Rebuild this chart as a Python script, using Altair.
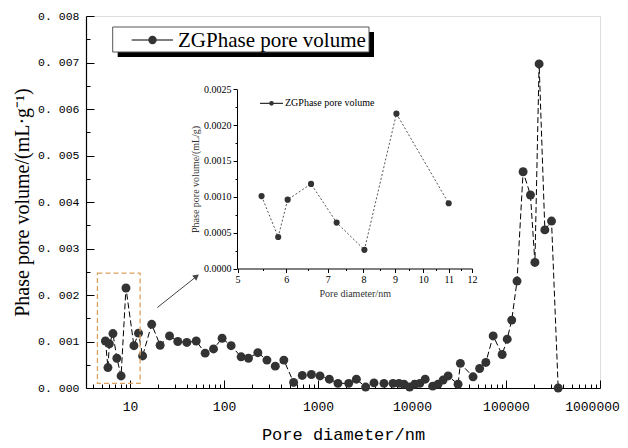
import altair as alt
import pandas as pd

# ---------------- data ----------------
series_name = "ZGPhase pore volume"

diameter_nm = [5.47, 5.82, 6.03, 6.58, 7.24, 8.03, 9.05, 11.0, 12.3, 13.6, 17.0, 20.9,
               26.3, 32.2, 40.2, 50.6, 63, 77.3, 95.4, 119, 152, 182, 229, 286, 351,
               433, 550, 680, 850, 1050, 1320, 1630, 2120, 2560, 3210, 3940, 5030,
               6280, 7270, 8220, 9440, 10700, 12100, 13800, 16600, 18900, 21400,
               24200, 30900, 32700, 44600, 52400, 61000, 73000, 91000, 103000,
               115000, 131000, 152000, 182000, 203000, 225000, 259000, 305000, 359000]
pore_volume = [0.00101, 0.00044, 0.00095, 0.00117, 0.00064, 0.00026, 0.00215, 0.00091,
               0.00118, 0.00069, 0.00137, 0.00092, 0.00112, 0.00100, 0.00098, 0.00101,
               0.00075, 0.00084, 0.00107, 0.00091, 0.00067, 0.00064, 0.00076, 0.00060,
               0.00047, 0.00060, 0.00012, 0.00027, 0.00029, 0.00026, 0.00019, 0.00010,
               0.00010, 0.00019, 0.00002, 0.00011, 0.00010, 0.00010, 0.00010, 0.00008,
               0.00002, 0.00008, 0.00010, 0.00019, 0.00004, 0.00008, 0.00017, 0.00026,
               0.00008, 0.00053, 0.00024, 0.00042, 0.00055, 0.00112, 0.00072, 0.00105,
               0.00146, 0.00230, 0.00465, 0.00415, 0.00270, 0.00697, 0.00340, 0.00359,
               0.0]

inset_diameter = [5.47, 5.82, 6.03, 6.58, 7.24, 8.03, 9.05, 11.0]
inset_volume = [0.00101, 0.00044, 0.00096, 0.00118, 0.00064, 0.00026, 0.00216, 0.00091]

x_major = [10, 100, 1000, 10000, 100000, 1000000]
x_minor = [4, 5, 6, 7, 8, 9, 20, 30, 40, 50, 60, 70, 80, 90,
           200, 300, 400, 500, 600, 700, 800, 900,
           2000, 3000, 4000, 5000, 6000, 7000, 8000, 9000,
           20000, 30000, 40000, 50000, 60000, 70000, 80000, 90000,
           200000, 300000, 400000, 500000, 600000, 700000, 800000, 900000]
y_major = [0, 0.001, 0.002, 0.003, 0.004, 0.005, 0.006, 0.007, 0.008]
y_minor = [0.0005, 0.0015, 0.0025, 0.0035, 0.0045, 0.0055, 0.0065, 0.0075]

inset_x_major = [5, 6, 7, 8, 9, 10, 11, 12]
inset_x_minor = [5.5, 6.5, 7.5, 8.5, 9.5, 10.5, 11.5]
inset_y_major = [0, 0.0005, 0.001, 0.0015, 0.002, 0.0025]
inset_y_minor = [0.00025, 0.00075, 0.00125, 0.00175, 0.00225]

zoom_box = {"x1": [4.5], "x2": [12.8], "y1": [0.0001], "y2": [0.00247]}
arrow = {"x1": [19.5], "x2": [51], "y1": [0.00173], "y2": [0.0024]}

# ---------------- layout ----------------
W, H = 514, 372
SERIF = "Liberation Serif"
MONO = "Liberation Mono"

main_df = pd.DataFrame({"d": diameter_nm, "v": pore_volume})
inset_df = pd.DataFrame({"d": inset_diameter, "v": inset_volume})
box_df = pd.DataFrame(zoom_box)
arrow_df = pd.DataFrame(arrow)
name_df = pd.DataFrame({"t": [series_name]})

xs = alt.Scale(type="log", domain=[3.4, 1000000])
ys = alt.Scale(domain=[0, 0.008])
ixs = alt.Scale(type="log", domain=[5, 12], range=[151.5, 386])
iys = alt.Scale(domain=[0, 0.0025], range=[252.5, 73.3])


def tick_axis(orient, offset, values, size):
    return alt.Axis(orient=orient, offset=offset, values=values, labels=False,
                    domain=False, grid=False, title=None, ticks=True,
                    tickColor="black", tickWidth=1, tickSize=size)


# main line (carries labelled axes)
main_line = alt.Chart(main_df).mark_line(color="black", strokeDash=[6, 3], strokeWidth=1).encode(
    x=alt.X("d:Q", scale=xs, axis=alt.Axis(
        orient="bottom", values=x_major[:-1], format="d",
        ticks=False, grid=False, domainColor="black", domainWidth=1.2,
        labelFont=MONO, labelFontSize=13, labelColor="black", labelPadding=12,
        labelFlush=False, labelOverlap=False, labelBound=False,
        title="Pore diameter/nm", titleFont=MONO, titleFontSize=17,
        titleFontWeight="normal", titleColor="black", titlePadding=13)),
    y=alt.Y("v:Q", scale=ys, axis=alt.Axis(
        orient="left", values=y_major,
        labelExpr="replace(format(datum.value, '.3f'), '.', '. ')",
        ticks=False, grid=False, domainColor="black", domainWidth=1.2,
        labelFont=MONO, labelFontSize=11.5, labelColor="black", labelPadding=7,
        labelFlush=False, labelOverlap=False,
        title="Phase pore volume/(mL·g⁻¹)", titleFont=SERIF, titleFontSize=20,
        titleFontWeight="normal", titleColor="black", titlePadding=5)),
)

main_pts = alt.Chart(main_df).mark_circle(size=80, color="#333333", opacity=1).encode(
    x=alt.X("d:Q", scale=xs, axis=tick_axis("top", -H, x_major, 8)),
    y=alt.Y("v:Q", scale=ys, axis=tick_axis("right", -W, y_major, 8)),
)

zoom_rect = alt.Chart(box_df).mark_rect(
    fillOpacity=0, stroke="#DDA15E", strokeDash=[5, 3], strokeWidth=1.3).encode(
    x=alt.X("x1:Q", scale=xs, axis=tick_axis("top", -H, x_minor, 4)),
    x2="x2:Q",
    y=alt.Y("y1:Q", scale=ys, axis=tick_axis("right", -W, y_minor, 4)),
    y2="y2:Q",
)

# arrow line also carries the last x label (nudged so it stays inside the page)
arrow_line = alt.Chart(arrow_df).mark_rule(color="#444444", strokeWidth=1).encode(
    x=alt.X("x1:Q", scale=xs, axis=alt.Axis(
        orient="bottom", values=x_major[-1:], format="d", ticks=False, domain=False,
        grid=False, title=None, labelFont=MONO, labelFontSize=13, labelColor="black",
        labelPadding=12, labelOffset=-8, labelFlush=False, labelOverlap=False,
        labelBound=False)),
    x2="x2:Q",
    y=alt.Y("y1:Q", scale=ys, axis=None), y2="y2:Q",
)
arrow_head = alt.Chart(arrow_df).mark_point(
    shape="triangle-up", filled=True, color="#444444", size=45, angle=52, opacity=1).encode(
    x=alt.X("x2:Q", scale=xs, axis=None),
    y=alt.Y("y2:Q", scale=ys, axis=None),
)

# inset
inset_line = alt.Chart(inset_df).mark_line(color="#555555", strokeDash=[2, 2], strokeWidth=1).encode(
    x=alt.X("d:Q", scale=ixs, axis=alt.Axis(
        orient="bottom", offset=-119.5, values=inset_x_major, format="d",
        grid=False, domainColor="black", domainWidth=1, tickColor="black", tickSize=4,
        labelFont=SERIF, labelFontSize=10, labelColor="black", labelPadding=2,
        labelFlush=False, labelOverlap=False,
        title="Pore diameter/nm", titleFont=SERIF, titleFontSize=10,
        titleFontWeight="normal", titleColor="#333333", titlePadding=4)),
    y=alt.Y("v:Q", scale=iys, axis=alt.Axis(
        orient="left", offset=-151, values=inset_y_major, format=".4f",
        grid=False, domainColor="black", domainWidth=1, tickColor="black", tickSize=4,
        labelFont=SERIF, labelFontSize=10, labelColor="black", labelPadding=2,
        labelFlush=False, labelOverlap=False,
        title="Phase pore volume/(mL/g)", titleFont=SERIF, titleFontSize=10,
        titleFontWeight="normal", titleColor="#333333", titlePadding=3)),
)
inset_pts = alt.Chart(inset_df).mark_circle(size=38, color="#333333", opacity=1).encode(
    x=alt.X("d:Q", scale=ixs, axis=tick_axis("bottom", -119.5, inset_x_minor, 2)),
    y=alt.Y("v:Q", scale=iys, axis=tick_axis("left", -151, inset_y_minor, 2)),
)

# main legend
leg_shadow = alt.Chart(name_df).mark_rect(color="black").encode(
    x=alt.value(31.7), x2=alt.value(288), y=alt.value(16), y2=alt.value(41))
leg_box = alt.Chart(name_df).mark_rect(fill="white", stroke="#555555", strokeWidth=1).encode(
    x=alt.value(26.7), x2=alt.value(283), y=alt.value(11), y2=alt.value(36))
leg_line = alt.Chart(name_df).mark_rule(color="black", strokeWidth=1).encode(
    x=alt.value(45.7), x2=alt.value(87), y=alt.value(24))
leg_pt = alt.Chart(name_df).mark_circle(size=70, color="#333333", opacity=1).encode(
    x=alt.value(66.5), y=alt.value(24))
leg_text = alt.Chart(name_df).mark_text(
    align="left", baseline="middle", font=SERIF, fontSize=21, color="black").encode(
    text="t:N", x=alt.value(92), y=alt.value(25))

# inset legend
ileg_line = alt.Chart(name_df).mark_rule(color="black", strokeWidth=1).encode(
    x=alt.value(174), x2=alt.value(197), y=alt.value(87.3))
ileg_pt = alt.Chart(name_df).mark_circle(size=22, color="#333333", opacity=1).encode(
    x=alt.value(185.5), y=alt.value(87.3))
ileg_text = alt.Chart(name_df).mark_text(
    align="left", baseline="middle", font=SERIF, fontSize=10, color="black").encode(
    text="t:N", x=alt.value(199), y=alt.value(87.3))

chart = alt.layer(
    main_line, main_pts, zoom_rect, arrow_line, arrow_head,
    inset_line, inset_pts,
    leg_shadow, leg_box, leg_line, leg_pt, leg_text,
    ileg_line, ileg_pt, ileg_text,
).resolve_scale(x="independent", y="independent").resolve_axis(
    x="independent", y="independent"
).properties(
    width=W, height=H, autosize="none",
    padding={"left": 78, "top": 8, "right": 20, "bottom": 56},
).configure_view(stroke="black", strokeWidth=1.2).configure(background="white")

chart.save("out.html", embed_options={"renderer": "svg", "actions": False})
